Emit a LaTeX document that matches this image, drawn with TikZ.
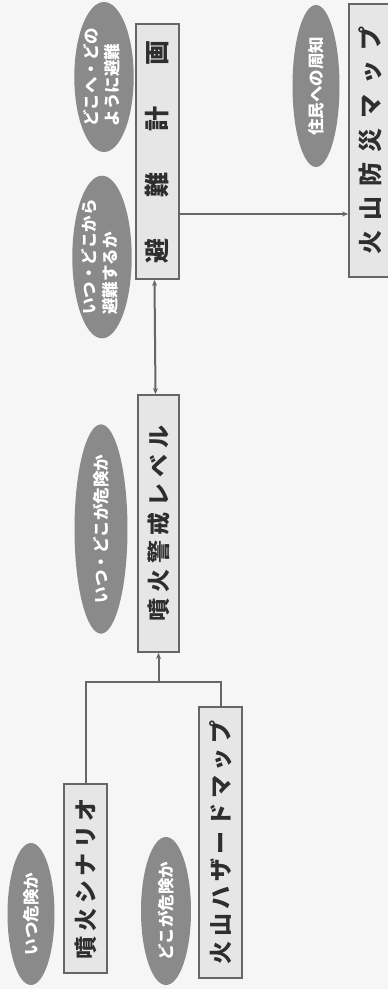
\documentclass[tikz,border=0pt]{standalone}
\usepackage{fontspec}
\usepackage{graphicx}
\setmainfont{Noto Sans CJK JP}
\newfontfamily\boxfont{Noto Sans CJK JP}[LetterSpace=20]
\newfontfamily\boxfontw{Noto Sans CJK JP}[LetterSpace=26]
\usetikzlibrary{shapes.geometric,arrows.meta}
\definecolor{bg}{HTML}{F6F6F6}
\definecolor{linegray}{HTML}{666666}
\definecolor{boxfill}{HTML}{E6E6E6}
\definecolor{ellgray}{HTML}{8A8A8A}
\definecolor{txtdark}{HTML}{2E2E2E}
\begin{document}
\begin{tikzpicture}[x=1pt,y=-1pt,
  box/.style={rectangle, draw=linegray, line width=1.8pt, fill=boxfill, inner sep=0pt, text=txtdark},
  ell/.style={ellipse, fill=ellgray, draw=none, inner sep=0pt, text=white,
    font=\bfseries\fontsize{16.5}{21}\selectfont},
  conn/.style={draw=linegray, line width=2pt},
  tip/.style={-{Stealth[length=6pt,width=5pt]}},
  tips/.style={{Stealth[length=6pt,width=5pt]}-{Stealth[length=6pt,width=5pt]}}]
\fill[bg] (0,0) rectangle (388,989);
\useasboundingbox (0,0) rectangle (388,989);

% boxes
\node[box, minimum width=43pt, minimum height=189pt] (b1) at (85.5,878.5)
  {\rotatebox{90}{\boxfont\bfseries\fontsize{23}{23}\selectfont 噴火シナリオ}};
\node[box, minimum width=43pt, minimum height=271pt] (b2) at (220.5,842.5)
  {\rotatebox{90}{\boxfont\bfseries\fontsize{23}{23}\selectfont 火山ハザードマップ}};
\node[box, minimum width=41pt, minimum height=257pt] (b3) at (158.5,523.5)
  {\rotatebox{90}{\boxfontw\bfseries\fontsize{23}{23}\selectfont 噴火警戒レベル}};
\node[box, minimum width=43pt, minimum height=255pt] (b4) at (157.5,151.5)
  {\rotatebox{90}{\bfseries\fontsize{25}{25}\selectfont 避\hspace{41pt}難\hspace{41pt}計\hspace{41pt}画}};
\node[box, minimum width=43pt, minimum height=273pt] (b5) at (370.5,140.5)
  {\rotatebox{90}{\bfseries\fontsize{24}{24}\selectfont 火\hspace{10pt}山\hspace{10pt}防\hspace{10pt}災\hspace{10pt}マ\hspace{10pt}ッ\hspace{10pt}プ}};

% ellipses
\node[ell, minimum width=47pt, minimum height=142pt] (e1) at (31,914)
  {\rotatebox{90}{いつ危険か}};
\node[ell, minimum width=50pt, minimum height=148pt] (e2) at (166,911)
  {\rotatebox{90}{どこが危険か}};
\node[ell, minimum width=53pt, minimum height=208pt] (e3) at (101,529)
  {\rotatebox{90}{いつ・どこが危険か}};
\node[ell, minimum width=55pt, minimum height=159pt] (e4) at (102,257)
  {\rotatebox{90}{\begin{tabular}{@{}l@{}}いつ・どこから\\避難するか\end{tabular}}};
\node[ell, minimum width=55pt, minimum height=150pt] (e5) at (104,77)
  {\rotatebox{90}{\begin{tabular}{@{}l@{}}どこへ・どの\\ように避難\end{tabular}}};
\node[ell, minimum width=47pt, minimum height=162pt] (e6) at (316,86)
  {\rotatebox{90}{住民への周知}};

% connectors
\coordinate (jy) at (0,682);
\coordinate (j) at (b3.south |- jy);
\draw[conn] (b1.north) -- (b1.north |- jy) -- (b2.north |- jy) -- (b2.north);
\draw[conn, tip] (j) -- (b3.south);
\draw[conn, tips] ([xshift=-3pt]b3.north) -- ([xshift=-3pt]b4.south);
\coordinate (ay) at (0,214);
\draw[conn, tip] (b4.east |- ay) -- (b5.west |- ay);
\end{tikzpicture}
\end{document}
